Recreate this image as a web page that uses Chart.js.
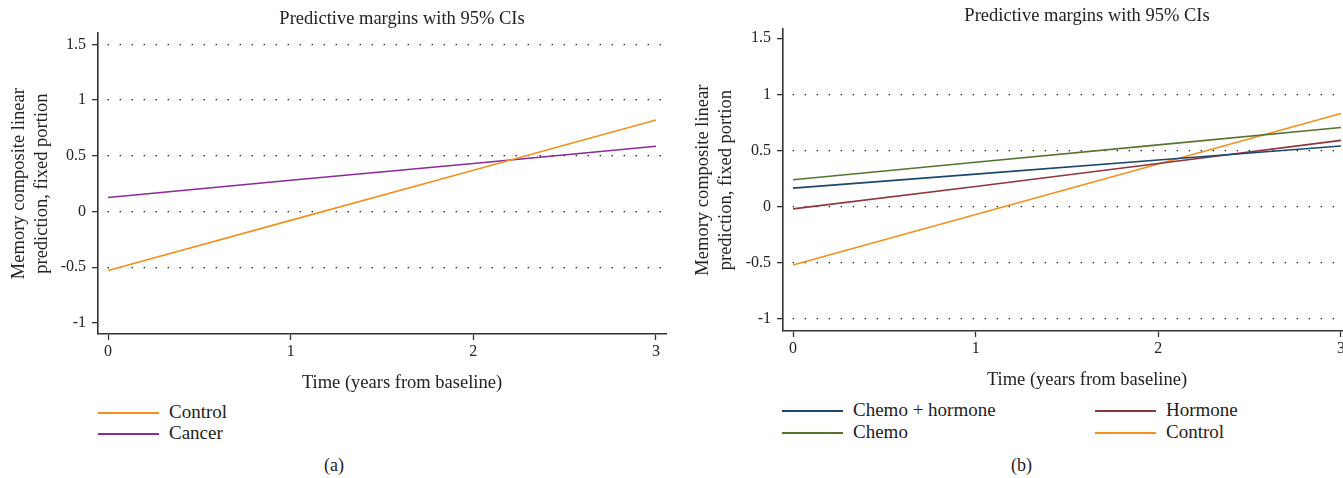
<!DOCTYPE html>
<html>
<head>
<meta charset="utf-8">
<script src="https://cdn.jsdelivr.net/npm/chart.js"></script>
<style>
body{margin:0;width:1343px;height:478px;overflow:hidden;background:#fff;font-family:"Liberation Serif",serif;color:#222;position:relative}
.box{position:absolute}
.leg{position:absolute;font-size:19px;line-height:22px;height:22px;white-space:nowrap;padding-left:71px}
.ln{position:absolute;left:0;top:11px;width:61px;height:2px}
.cap{position:absolute;font-size:18px}
</style>
</head>
<body>
<div class="box" style="left:0;top:0;width:672px;height:395px"><canvas id="chartA"></canvas></div>
<div class="box" style="left:684px;top:0;width:680px;height:392px"><canvas id="chartB"></canvas></div>

<div class="leg" style="left:98px;top:401px"><span class="ln" style="background:#f5901e"></span>Control</div>
<div class="leg" style="left:98px;top:422px"><span class="ln" style="background:#8b2a9b"></span>Cancer</div>
<div class="cap" style="left:324px;top:455px">(a)</div>

<div class="leg" style="left:782px;top:399px"><span class="ln" style="background:#1a476f"></span>Chemo + hormone</div>
<div class="leg" style="left:782px;top:421px"><span class="ln" style="background:#55752f"></span>Chemo</div>
<div class="leg" style="left:1095px;top:399px"><span class="ln" style="background:#90353b"></span>Hormone</div>
<div class="leg" style="left:1095px;top:421px"><span class="ln" style="background:#f5901e"></span>Control</div>
<div class="cap" style="left:1011px;top:455px">(b)</div>

<script>
var timeYears = [0, 1, 2, 3];
var xTicks = [0, 1, 2, 3];
var yTicks = [-1, -0.5, 0, 0.5, 1, 1.5];

// panel (a)
var aControl = [-0.53, -0.08, 0.37, 0.82];
var aCancer = [0.125, 0.28, 0.43, 0.585];

// panel (b)
var bChemoHormone = [0.165, 0.29, 0.415, 0.54];
var bChemo = [0.24, 0.395, 0.55, 0.705];
var bHormone = [-0.02, 0.18, 0.385, 0.59];
var bControl = [-0.52, -0.07, 0.38, 0.83];

var titleText = "Predictive margins with 95% CIs";
var xTitle = "Time (years from baseline)";
var yTitle = ["Memory composite linear", "prediction, fixed portion"];

var FONT = "'Liberation Serif', serif";
var INK = "#333";
var TITLE_SHIFT = 20; // stata centres the titles a bit right of the plot

function pts(arr){
    var out = [];
    for (var i = 0; i < timeYears.length; i++) {
        out.push({x: timeYears[i], y: arr[i]});
    }
    return out;
}

function line(label, arr, color){
    return {
        label: label,
        data: pts(arr),
        borderColor: color,
        backgroundColor: color,
        borderWidth: 1.6,
        pointRadius: 0,
        showLine: true,
        fill: false
    };
}

// move chart title + x axis title over the plot area (plus the small shift)
var shiftTitles = {
    id: "shiftTitles",
    afterLayout: function(chart){
        var ca = chart.chartArea;
        if (chart.titleBlock) {
            chart.titleBlock.left = ca.left + TITLE_SHIFT;
            chart.titleBlock.right = ca.right + TITLE_SHIFT;
        }
        var sc = chart.scales.x;
        if (sc && !sc._shifted) {
            var orig = sc.drawTitle;
            sc.drawTitle = function(){
                var l = this.left, r = this.right;
                this.left = l + TITLE_SHIFT;
                this.right = r + TITLE_SHIFT;
                orig.apply(this, arguments);
                this.left = l;
                this.right = r;
            };
            sc._shifted = true;
        }
    }
};

function makeChart(id, datasets, o){
    var ctx = document.getElementById(id).getContext("2d");
    return new Chart(ctx, {
        type: "scatter",
        data: {datasets: datasets},
        plugins: [shiftTitles],
        options: {
            responsive: true,
            maintainAspectRatio: false,
            animation: false,
            layout: {padding: {left: 0, right: o.padRight, top: 0, bottom: 0}},
            plugins: {
                legend: {display: false},
                tooltip: {enabled: false},
                title: {
                    display: true,
                    text: titleText,
                    color: "#222",
                    font: {family: FONT, size: 18.5, weight: "normal", lineHeight: 1.2},
                    padding: {top: o.titleTop, bottom: o.titleBottom}
                }
            },
            scales: {
                x: {
                    type: "linear",
                    min: -0.055,
                    max: 3.055,
                    afterBuildTicks: function(scale){
                        scale.ticks = xTicks.map(function(v){ return {value: v}; });
                    },
                    afterFit: function(scale){ scale.height = 61; },
                    ticks: {
                        color: "#222",
                        font: {family: FONT, size: 16},
                        padding: 2,
                        maxRotation: 0,
                        callback: function(v){ return String(v); }
                    },
                    grid: {drawOnChartArea: false, drawTicks: true, tickLength: 6, tickColor: INK, tickWidth: 1.3},
                    border: {display: true, color: INK, width: 1.6},
                    title: {
                        display: true,
                        text: xTitle,
                        color: "#222",
                        font: {family: FONT, size: 18.5, lineHeight: 1.2},
                        padding: {top: 0, bottom: 1}
                    }
                },
                y: {
                    type: "linear",
                    min: o.yMin,
                    max: o.yMax,
                    afterBuildTicks: function(scale){
                        scale.ticks = yTicks.map(function(v){ return {value: v}; });
                    },
                    afterFit: function(scale){ scale.width = o.yWidth; },
                    ticks: {
                        color: "#222",
                        font: {family: FONT, size: 16},
                        padding: 6,
                        callback: function(v){ return String(v); }
                    },
                    grid: {
                        drawOnChartArea: true,
                        drawTicks: true,
                        tickLength: 6,
                        tickColor: INK,
                        tickWidth: 1.3,
                        lineWidth: 1.3,
                        color: function(c){
                            if (c.tick && o.noGrid.indexOf(c.tick.value) >= 0) return "rgba(0,0,0,0)";
                            return "#222";
                        }
                    },
                    border: {display: true, color: INK, width: 1.6, dash: [1.4, 10.6], dashOffset: 3},
                    title: {
                        display: true,
                        text: yTitle,
                        color: "#222",
                        font: {family: FONT, size: 18.5, lineHeight: 1.27},
                        padding: {top: 7, bottom: 0}
                    }
                }
            }
        }
    });
}

makeChart("chartA", [
    line("Control", aControl, "#f5901e"),
    line("Cancer", aCancer, "#8b2a9b")
], {padRight: 6, titleTop: 8, titleBottom: 3, yMin: -1.1, yMax: 1.6, yWidth: 98, noGrid: [-1]});

makeChart("chartB", [
    line("Chemo + hormone", bChemoHormone, "#1a476f"),
    line("Chemo", bChemo, "#55752f"),
    line("Hormone", bHormone, "#90353b"),
    line("Control", bControl, "#f5901e")
], {padRight: 13, titleTop: 5, titleBottom: 2, yMin: -1.107, yMax: 1.58, yWidth: 99, noGrid: [1.5]});
</script>
</body>
</html>
